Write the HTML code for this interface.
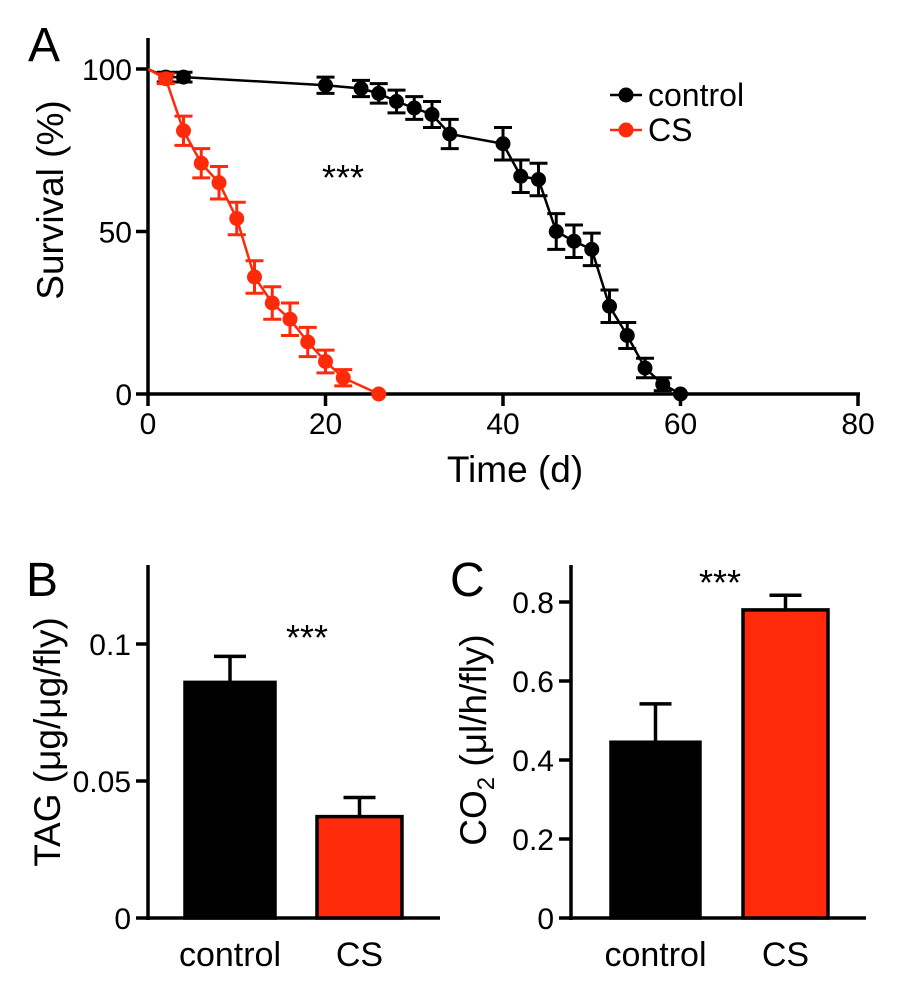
<!DOCTYPE html>
<html><head><meta charset="utf-8"><style>
body{margin:0;background:#fff;}
svg{display:block;font-family:"Liberation Sans",Arial,sans-serif;}
</style></head><body>
<svg id="fig" width="900" height="992" viewBox="0 0 900 992"></svg>
<script>
// Panel A data
const days = [2,4,20,24,26,28,30,32,34,40,42,44,46,48,50,52,54,56,58,60];
const controlSurv = [97.5,97.5,95,94,92.5,90,88,86,80,77,67,66,50,47,44.5,27,18,8,3,0];
const controlErr = [1.5,1.5,2.5,2.5,3,3.5,3.5,4,4.5,5,5,5,5.5,5,5,5,4,3,2,0];
const csDays = [2,4,6,8,10,12,14,16,18,20,22,26];
const csSurv = [97,81,71,65,54,36,28,23,16,10,5,0];
const csErr = [1.5,4.5,4.5,5,5,5,5,5,4.5,3.5,2.5,0];
const xTicksA = [0,20,40,60,80];
const yTicksA = [0,50,100];
// Panel B
const barCats = ["control","CS"];
const tagVals = [0.086,0.037];
const tagErr = [0.0095,0.007];
const yTicksB = [0,0.05,0.1];
const yTickLabelsB = ["0","0.05","0.1"];
// Panel C
const co2Vals = [0.445,0.78];
const co2Err = [0.097,0.037];
const yTicksC = [0,0.2,0.4,0.6,0.8];
const yTickLabelsC = ["0","0.2","0.4","0.6","0.8"];

const NS="http://www.w3.org/2000/svg";
const svg=document.getElementById('fig');
function mk(tag,attrs,parent,text){const e=document.createElementNS(NS,tag);for(const k in attrs)e.setAttribute(k,attrs[k]);if(text!==undefined)e.textContent=text;(parent||svg).appendChild(e);return e;}

// ---------- Panel A ----------
const xA=d=>148+d*8.875, yA=v=>394-v*3.25;
const gA=mk('g',{});


let t=mk('text',{x:28,y:61,'font-size':48},gA,'A');

mk('line',{x1:148,y1:38,x2:148,y2:396,stroke:'#000','stroke-width':3.5},gA);
mk('line',{x1:146,y1:394,x2:xA(80)+2,y2:394,stroke:'#000','stroke-width':3.5},gA);
xTicksA.forEach(v=>{mk('line',{x1:xA(v),y1:394,x2:xA(v),y2:406,stroke:'#000','stroke-width':3.5},gA);
 const l=mk('text',{x:xA(v),y:434,'font-size':30,'text-anchor':'middle'},gA,String(v));
 });
yTicksA.forEach(v=>{mk('line',{x1:136,y1:yA(v),x2:148,y2:yA(v),stroke:'#000','stroke-width':3.5},gA);
 const l=mk('text',{x:132,y:yA(v)+11,'font-size':30,'text-anchor':'end'},gA,String(v));
 });
t=mk('text',{x:515,y:482,'font-size':37,'text-anchor':'middle'},gA,'Time (d)');

t=mk('text',{x:0,y:0,'font-size':37,'text-anchor':'middle',transform:'translate(63,200) rotate(-90)'},gA,'Survival (%)');

t=mk('text',{x:343,y:190,'font-size':36,'text-anchor':'middle'},gA,'***');


function series(xs,ys,es,color,name){
 const g=mk('g',{},gA);
 
 const pts=[[xA(0),yA(100)]].concat(xs.map((d,i)=>[xA(d),yA(ys[i])]));
 mk('polyline',{points:pts.map(p=>p.join(',')).join(' '),fill:'none',stroke:color,'stroke-width':2.5},g);
 xs.forEach((d,i)=>{
  const x=xA(d);
  if(es[i]>0){const y1=yA(ys[i]+es[i]),y2=yA(ys[i]-es[i]);
   mk('line',{x1:x,y1:y1,x2:x,y2:y2,stroke:color,'stroke-width':3},g);
   mk('line',{x1:x-9,y1:y1,x2:x+9,y2:y1,stroke:color,'stroke-width':3},g);
   mk('line',{x1:x-9,y1:y2,x2:x+9,y2:y2,stroke:color,'stroke-width':3},g);}
  const c=mk('circle',{cx:x,cy:yA(ys[i]),r:7.5,fill:color},g);
  
 });
}
series(days,controlSurv,controlErr,'#000','control');
series(csDays,csSurv,csErr,'#ff2a0a','cs');
// legend
const lg=mk('g',{},gA);
[['control','#000',95],['CS','#ff2a0a',130]].forEach(([n,c,y])=>{
 const e=mk('g',{},lg);
 mk('line',{x1:610,y1:y,x2:642,y2:y,stroke:c,'stroke-width':2.5},e);
 mk('circle',{cx:626,cy:y,r:7.5,fill:c},e);
 mk('text',{x:648,y:y+11,'font-size':32},e,n);
});

// ---------- Bar panels ----------
function barPanel(opts){
 const g=mk('g',{});
 const y=v=>918-v*opts.scale;
 let l=mk('text',{x:opts.letterX,y:596,'font-size':48},g,opts.letter);
 
 mk('line',{x1:opts.ax,y1:565,x2:opts.ax,y2:920,stroke:'#000','stroke-width':3.5},g);
 mk('line',{x1:opts.ax-2,y1:918,x2:opts.axEnd,y2:918,stroke:'#000','stroke-width':3.5},g);
 opts.ticks.forEach((v,i)=>{mk('line',{x1:opts.ax-12,y1:y(v),x2:opts.ax,y2:y(v),stroke:'#000','stroke-width':3.5},g);
  const tl=mk('text',{x:opts.ax-17,y:y(v)+11,'font-size':30,'text-anchor':'end'},g,opts.tickLabels[i]);
  });
 opts.vals.forEach((v,i)=>{
  const [x0,x1]=opts.barX[i];const cx=(x0+x1)/2;
  const top=y(v), et=y(v+opts.err[i]);
  mk('line',{x1:cx,y1:top,x2:cx,y2:et,stroke:'#000','stroke-width':3.5},g);
  mk('line',{x1:cx-16,y1:et,x2:cx+16,y2:et,stroke:'#000','stroke-width':3.5},g);
  const r=mk('rect',{x:x0,y:top,width:x1-x0,height:918-top,fill:opts.colors[i],stroke:'#000','stroke-width':3.5},g);
  
  const xl=mk('text',{x:cx,y:966,'font-size':34,'text-anchor':'middle'},g,barCats[i]);
  
 });
 const s=mk('text',{x:opts.starX,y:opts.starY,'font-size':36,'text-anchor':'middle'},g,'***');
 
 const yt=mk('text',{x:0,y:0,'font-size':37,'text-anchor':'middle',transform:`translate(${opts.titleX},${opts.titleY}) rotate(-90)`},g);
 
 opts.title(yt);
}
barPanel({name:'tag-chart',letter:'B',letterX:26,ax:148,axEnd:440,scale:2740,ticks:yTicksB,tickLabels:yTickLabelsB,
 vals:tagVals,err:tagErr,barX:[[185,275],[317,402]],colors:['#000','#ff2a0a'],starX:307,starY:650,titleX:60,titleY:742,
 title:e=>{e.textContent='TAG (μg/μg/fly)';}});
barPanel({name:'co2-chart',letter:'C',letterX:450,ax:571,axEnd:866,scale:395,ticks:yTicksC,tickLabels:yTickLabelsC,
 vals:co2Vals,err:co2Err,barX:[[611,700],[743,828]],colors:['#000','#ff2a0a'],starX:720,starY:595,titleX:486,titleY:740,
 title:e=>{mk('tspan',{},e,'CO');mk('tspan',{'font-size':24,dy:8},e,'2');mk('tspan',{dy:-8},e,' (μl/h/fly)');}});
</script>
</body></html>
